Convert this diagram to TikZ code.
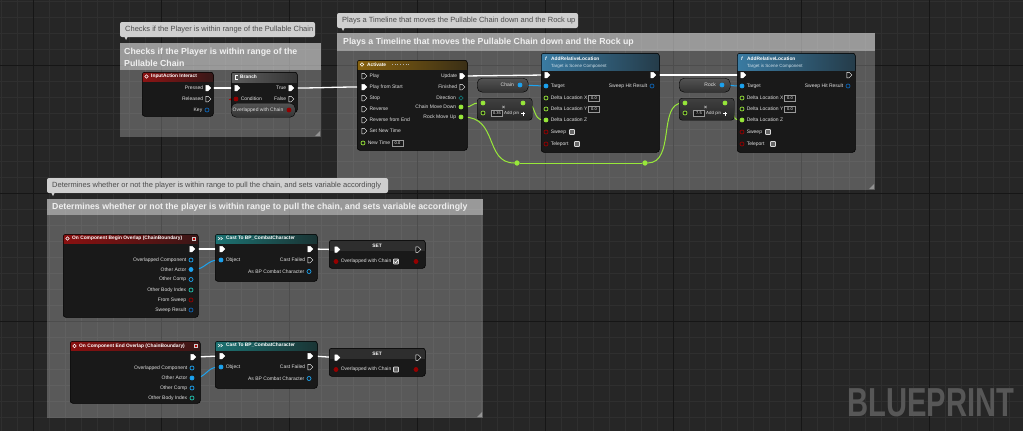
\documentclass[tikz,border=0pt]{standalone}
\usepackage{fontspec}
\setmainfont{Liberation Sans}
\usetikzlibrary{positioning, arrows.meta, calc, shapes.symbols, shapes.geometric}

% 色の定義
\definecolor{bgc}{HTML}{262626}
\definecolor{gridmin}{HTML}{2F2F2F}
\definecolor{gridmaj}{HTML}{161616}
\definecolor{bodyc}{HTML}{191919}
\definecolor{txtc}{HTML}{E0E0E0}
\definecolor{iared}{HTML}{8E1414}
\definecolor{evred}{HTML}{8A1010}
\definecolor{brgray}{HTML}{5E5E5E}
\definecolor{tlgold}{HTML}{87620F}
\definecolor{fnblue}{HTML}{3A7BA2}
\definecolor{castc}{HTML}{1C7272}
\definecolor{setred}{HTML}{6E1A1A}
\definecolor{fltc}{HTML}{98E83A}
\definecolor{objc}{HTML}{1CA3F0}
\definecolor{strc}{HTML}{0E63B4}
\definecolor{boolc}{HTML}{950000}
\definecolor{intc}{HTML}{22C2B0}
\definecolor{enumc}{HTML}{106E6E}
\definecolor{tipc}{HTML}{CFCFCF}
\definecolor{tiptxt}{HTML}{4C4C4C}
\definecolor{wmc}{HTML}{575757}

\pgfdeclarelayer{bg}
\pgfdeclarelayer{wire}
\pgfsetlayers{bg,wire,main}

\newcommand\pinfont{\fontsize{5}{6}\selectfont}
\newcommand\ttlfont{\fontsize{4.85}{6}\selectfont\bfseries}
\newcommand\subfont{\fontsize{4.5}{5}\selectfont}
\newcommand\tipfont{\fontsize{7.5}{9}\selectfont}
\newcommand\cmtfont{\fontsize{8.75}{11.5}\selectfont\bfseries}

\begin{document}
\begin{tikzpicture}[
    x=1pt, y=-1pt,          % ピクセル座標（y は下向き）
    font=\pinfont,
    % ノード本体（#1: ヘッダの塗り, #2: ヘッダの高さ）
    bpnode/.style 2 args={draw=black, line width=0.5pt, fill=bodyc,
        rounded corners=2.5pt, inner sep=0pt, anchor=north west,
        path picture={\shade[#1, sharp corners] (path picture bounding box.north west)
            rectangle ([yshift=-#2]path picture bounding box.north east);}},
    ttl/.style={font=\ttlfont, text=white, anchor=west, inner sep=0pt},
    sub/.style={font=\subfont, text=white!75!fnblue, anchor=west, inner sep=0pt},
    lbl/.style={font=\pinfont, text=txtc, inner sep=0pt, label distance=2.2pt},
    % ピン
    exec/.style={signal, signal to=east, draw=white, fill=white, line width=0.5pt,
        minimum width=5pt, minimum height=5.5pt, inner sep=0pt},
    execo/.style={exec, fill=bodyc},
    dpin/.style={circle, draw=#1, fill=#1, line width=0.7pt, minimum size=4pt, inner sep=0pt},
    dpino/.style={dpin=#1, fill=bodyc},
    pill/.style={draw=black, rounded corners=5pt, top color=black!35!gray, bottom color=black!80,
        inner sep=0pt, anchor=north west},
    compact/.style={draw=black, rounded corners=3pt, top color=black!50!gray, bottom color=black!85,
        inner sep=0pt, anchor=north west},
    valbox/.style={draw=gray!80, fill=bodyc, line width=0.4pt, font=\fontsize{4}{5}\selectfont,
        text=white, inner sep=0.6pt, minimum width=11pt, minimum height=6.5pt},
    chk/.style={draw=white!85!black, line width=0.7pt, fill=black!60, rounded corners=0.6pt,
        minimum size=5pt, inner sep=0pt},
    % コメント枠
    cmtbody/.style={fill=white, fill opacity=0.24},
    cmthead/.style={fill=white, fill opacity=0.39},
    cmtgrip/.style={fill=white, fill opacity=0.35},
    cmttext/.style={font=\cmtfont, text=white!94!black, anchor=west, align=left, inner sep=0pt},
    tipbox/.style={fill=tipc, rounded corners=2pt},
    tiptext/.style={font=\tipfont, text=tiptxt, anchor=west, inner sep=0pt},
    % ワイヤ
    ewire/.style={white, line width=1.3pt},
    fwire/.style={fltc, line width=1pt},
    owire/.style={objc, line width=1pt},
    bwire/.style={red!70!black, line width=1pt}
]

    \useasboundingbox (0,0) rectangle (1023,431);

    % --- 1. 背景とグリッド ---
    \begin{pgfonlayer}{bg}
    \fill[bgc] (0,0) rectangle (1023,431);
    \foreach \g in {1,17,...,1023} \draw[gridmin, line width=0.5pt] (\g,0) -- (\g,431);
    \foreach \g in {1,17,...,431} \draw[gridmin, line width=0.5pt] (0,\g) -- (1023,\g);
    \foreach \g in {33,161,...,1023} \draw[gridmaj, line width=0.8pt] (\g,0) -- (\g,431);
    \foreach \g in {65,193,321} \draw[gridmaj, line width=0.8pt] (0,\g) -- (1023,\g);

    % コメント枠（右下はリサイズ用の三角）
    \foreach \xa/\ya/\xb/\yb/\yh in {120/43/321/137/70, 337/33/875/190/51, 47/199/483/418/215} {
        \fill[cmtbody] (\xa,\ya) rectangle (\xb,\yb);
        \fill[cmthead] (\xa,\ya) rectangle (\xb,\yh);
        \fill[cmtgrip] ({\xb-6},{\yb-1}) -- ({\xb-1},{\yb-6}) -- ({\xb-1},{\yb-1}) -- cycle;
    }

    % 吹き出し
    \fill[tipbox] (120,22) rectangle (315,37);
    \fill[tipc] (124,36) -- (128,36) -- (126,40) -- cycle;
    \fill[tipbox] (337,13) rectangle (578,28);
    \fill[tipc] (341,27) -- (345,27) -- (343,31) -- cycle;
    \fill[tipbox] (47,178) rectangle (388,193);
    \fill[tipc] (51,192) -- (55,192) -- (53,196) -- cycle;
    \end{pgfonlayer}

    \node[tiptext] (tp1) at (125,29.5) {Checks if the Player is within range of the Pullable Chain};
    \node[tiptext] (tp2) at (342,20.5) {Plays a Timeline that moves the Pullable Chain down and the Rock up};
    \node[tiptext] (tp3) at (52,185.5) {Determines whether or not the player is within range to pull the chain, and sets variable accordingly};
    \node[cmttext] (hd1) at (124,57.5) {Checks if the Player is within range of the\\Pullable Chain};
    \node[cmttext] (hd2) at (343,42.5) {Plays a Timeline that moves the Pullable Chain down and the Rock up};
    \node[cmttext] (hd3) at (52,207.5) {Determines whether or not the player is within range to pull the chain, and sets variable accordingly};

    % --- 2. 入力と分岐 ---
    \node[bpnode={left color=iared, right color=iared!25!bodyc}{9pt}, minimum width=71pt, minimum height=44pt] (ia) at (142,72) {};
    \draw[white, line width=0.6pt] (146.5,76.5) circle (1.8);
    \node[ttl] (ia-t) at (151,76.5) {InputAction Interact};
    \node[exec, label={[lbl]left:Pressed}] (ia-pr) at (207,88) {};
    \node[execo, label={[lbl]left:Released}] (ia-rl) at (207,99) {};
    \node[dpino=strc, label={[lbl]left:Key}] (ia-key) at (207,110) {};

    \node[bpnode={left color=brgray, right color=brgray!40!bodyc}{10pt}, minimum width=66pt, minimum height=40pt] (br) at (231,72) {};
    \draw[white, line width=0.6pt] (237.5,75) -- (235.5,75) -- (235.5,79) -- (237.5,79);
    \node[ttl] (br-t) at (240,77) {Branch};
    \node[exec] (br-in) at (236,88) {};
    \node[exec, label={[lbl]left:True}] (br-tr) at (290,88) {};
    \node[dpin=boolc, label={[lbl]right:Condition}] (br-c) at (236,99) {};
    \node[execo, label={[lbl]left:False}] (br-f) at (290,99) {};
    \node[pill, minimum width=64pt, minimum height=14pt] (ov) at (231,103) {};
    \node[lbl] (ov-t) at (258,110) {Overlapped with Chain};
    \node[dpin=boolc] (ov-o) at (289,110) {};

    % --- 3. タイムライン ---
    \node[bpnode={left color=tlgold, right color=tlgold!30!bodyc}{9pt}, minimum width=110pt, minimum height=90pt] (tl) at (357,60) {};
    \draw[white, line width=0.5pt] (362,64.5) circle (1.8);
    \node[ttl] (tl-t) at (367,64.5) {Activate};
    \draw[white!70!black, dotted, line width=0.7pt] (392,64.5) -- (410,64.5);
    \foreach \i/\t in {0/Play, 2/Stop, 3/Reverse, 4/Reverse from End, 5/Set New Time}
        \node[execo, label={[lbl]right:\t}] (tl-l\i) at (363,{76+11*\i}) {};
    \node[exec, label={[lbl]right:Play from Start}] (tl-l1) at (363,87) {};
    \node[dpino=fltc, label={[lbl]right:New Time}] (tl-nt) at (363,143) {};
    \node[valbox] (tl-ntv) at (397.5,143) {0.0};
    \node[exec, label={[lbl]left:Update}] (tl-up) at (461,76) {};
    \node[execo, label={[lbl]left:Finished}] (tl-fin) at (461,87) {};
    \node[diamond, draw=enumc, fill=bodyc, line width=0.7pt, minimum size=4.5pt, inner sep=0pt,
        label={[lbl]left:Direction}] (tl-dir) at (461,98) {};
    \node[dpin=fltc, label={[lbl]left:Chain Move Down}] (tl-cmd) at (461,107) {};
    \node[dpin=fltc, label={[lbl]left:Rock Move Up}] (tl-rmu) at (461,117) {};

    % 変数の取得と乗算
    \foreach \k/\x/\nm/\v in {1/477/Chain/0.35, 2/679/Rock/7.5} {
        \node[pill, minimum width=51pt, minimum height=14pt] (g\k) at (\x,78) {};
        \node[lbl, anchor=east] (g\k-t) at ({\x+37},85) {\nm};
        \node[dpin=objc] (g\k-o) at ({\x+43},85) {};
        \node[compact, minimum width=55pt, minimum height=22pt] (m\k) at (\x,98) {};
        \node[dpin=fltc] (m\k-a) at ({\x+6},103) {};
        \node[dpino=fltc] (m\k-b) at ({\x+6},113) {};
        \node[valbox] (m\k-v) at ({\x+20},113) {\v};
        \node[lbl, text=white, font=\fontsize{6}{6}\selectfont] (m\k-x) at ({\x+26.5},107.5) {×};
        \node[lbl, anchor=west, font=\fontsize{4.4}{5}\selectfont] (m\k-ap) at ({\x+27},113.5) {Add pin};
        \draw[white, line width=0.7pt] ({\x+44},113.5) -- ({\x+48},113.5) ({\x+46},111.5) -- ({\x+46},115.5);
        \node[dpin=fltc] (m\k-o) at ({\x+46},103) {};
    }

    % AddRelativeLocation ×2
    \foreach \k/\x in {1/541, 2/737} {
        \node[bpnode={left color=fnblue, right color=fnblue!35!bodyc}{17pt}, minimum width=118pt, minimum height=99pt] (ar\k) at (\x,53) {};
        \node[font=\ttlfont\itshape, text=white, inner sep=0pt] (ar\k-f) at ({\x+5},58.5) {f};
        \node[ttl] (ar\k-t) at ({\x+10},58.5) {AddRelativeLocation};
        \node[sub] (ar\k-s) at ({\x+10},66) {Target is Scene Component};
        \node[exec] (ar\k-in) at ({\x+5},75) {};
        \node[dpin=objc, label={[lbl]right:Target}] (ar\k-tg) at ({\x+5},86) {};
        \node[dpino=strc, label={[lbl]left:Sweep Hit Result}] (ar\k-hit) at ({\x+111},86) {};
        \node[dpino=fltc, label={[lbl]right:Delta Location X}] (ar\k-dx) at ({\x+5},98) {};
        \node[valbox] (ar\k-vx) at ({\x+53},98) {0.0};
        \node[dpino=fltc, label={[lbl]right:Delta Location Y}] (ar\k-dy) at ({\x+5},109) {};
        \node[valbox] (ar\k-vy) at ({\x+53},109) {0.0};
        \node[dpin=fltc, label={[lbl]right:Delta Location Z}] (ar\k-dz) at ({\x+5},120) {};
        \node[dpino=boolc, label={[lbl]right:Sweep}] (ar\k-sw) at ({\x+5},132) {};
        \node[chk] (ar\k-swc) at ({\x+31},132) {};
        \node[dpino=boolc, label={[lbl]right:Teleport}] (ar\k-tp) at ({\x+5},144) {};
        \node[chk] (ar\k-tpc) at ({\x+36},144) {};
    }
    \node[exec] (ar1-out) at (652,75) {};
    \node[execo] (ar2-out) at (848,75) {};

    % リルートノード
    \node[dpin=fltc, minimum size=4.5pt] (rr1) at (517,163) {};
    \node[dpin=fltc, minimum size=4.5pt] (rr2) at (645,163) {};

    % --- 4. オーバーラップイベント ---
    \node[bpnode={left color=evred, right color=evred!30!bodyc}{9pt}, minimum width=135pt, minimum height=83pt] (bo) at (63,234) {};
    \draw[white, line width=0.6pt] (67.5,238.5) circle (1.8);
    \node[ttl] (bo-t) at (72,238.5) {On Component Begin Overlap (ChainBoundary)};
    \draw[white!80!black, fill=red!75!black, line width=0.4pt] (192.5,237) rectangle (195.5,240);
    \node[exec] (bo-ex) at (191,249) {};
    \node[dpino=objc, label={[lbl]left:Overlapped Component}] (bo-oc) at (191,260) {};
    \node[dpin=objc, label={[lbl]left:Other Actor}] (bo-oa) at (191,269.5) {};
    \node[dpino=objc, label={[lbl]left:Other Comp}] (bo-ocp) at (191,279.5) {};
    \node[dpino=intc, label={[lbl]left:Other Body Index}] (bo-obi) at (191,290) {};
    \node[dpino=boolc, label={[lbl]left:From Sweep}] (bo-fs) at (191,300) {};
    \node[dpino=strc, label={[lbl]left:Sweep Result}] (bo-sr) at (191,310) {};

    \node[bpnode={left color=evred, right color=evred!30!bodyc}{9pt}, minimum width=130pt, minimum height=62pt] (eo) at (70,341) {};
    \draw[white, line width=0.6pt] (74.5,346) circle (1.8);
    \node[ttl] (eo-t) at (79,346) {On Component End Overlap (ChainBoundary)};
    \draw[white!80!black, fill=red!75!black, line width=0.4pt] (194.5,344.5) rectangle (197.5,347.5);
    \node[exec] (eo-ex) at (192,357) {};
    \node[dpino=objc, label={[lbl]left:Overlapped Component}] (eo-oc) at (192,368) {};
    \node[dpin=objc, label={[lbl]left:Other Actor}] (eo-oa) at (192,378) {};
    \node[dpino=objc, label={[lbl]left:Other Comp}] (eo-ocp) at (192,388) {};
    \node[dpino=intc, label={[lbl]left:Other Body Index}] (eo-obi) at (192,398) {};

    % キャストと SET
    \foreach \k/\y in {1/234, 2/341} {
        \node[bpnode={left color=castc, right color=castc!30!bodyc}{9pt}, minimum width=102pt, minimum height=47pt] (c\k) at (215,\y) {};
        \draw[white, line width=0.5pt] (218,{\y+3}) -- (220,{\y+4.5}) -- (218,{\y+6})
            (220.5,{\y+3}) -- (222.5,{\y+4.5}) -- (220.5,{\y+6});
        \node[ttl] (c\k-t) at (226,{\y+4.5}) {Cast To BP\_CombatCharacter};
        \node[exec] (c\k-in) at (221,{\y+15}) {};
        \node[exec] (c\k-out) at (309,{\y+15}) {};
        \node[dpin=objc, label={[lbl]right:Object}] (c\k-ob) at (221,{\y+26}) {};
        \node[execo, label={[lbl]left:Cast Failed}] (c\k-cf) at (309,{\y+26}) {};
        \node[dpino=objc, label={[lbl]left:As BP Combat Character}] (c\k-as) at (309,{\y+37.5}) {};
    }
    \foreach \k/\y in {1/240, 2/348} {
        \node[bpnode={left color=bodyc!80!gray, middle color=setred, right color=bodyc!80!gray}{10pt}, minimum width=96pt, minimum height=28pt] (s\k) at (329,\y) {};
        \node[ttl, anchor=center] (s\k-t) at (377,{\y+6}) {SET};
        \node[exec] (s\k-in) at (336,{\y+9.5}) {};
        \node[execo] (s\k-out) at (417,{\y+9.5}) {};
        \node[dpin=boolc, label={[lbl]right:Overlapped with Chain}] (s\k-v) at (336,{\y+21.5}) {};
        \node[chk] (s\k-c) at (396,{\y+21.5}) {};
        \node[dpin=boolc] (s\k-o) at (416,{\y+21.5}) {};
    }
    \draw[white, line width=0.6pt] (394.4,261.6) -- (395.6,262.9) -- (397.7,260.1);

    % 透かし文字
    \node[font=\fontsize{40.5}{40}\selectfont\bfseries, text=wmc, inner sep=0pt, xscale=0.72] (wm) at (931,402.5) {BLUEPRINT};

    % --- 5. ワイヤ ---
    \begin{pgfonlayer}{wire}
    \draw[ewire] (ia-pr.east) -- (br-in.west);
    \draw[bwire] (ov-o.east) .. controls +(25,0) and +(-25,0) .. (br-c.west);
    \draw[ewire] (br-tr.east) .. controls +(30,0) and +(-30,0) .. (tl-l1.west);
    \draw[ewire] (tl-up.east) -- (ar1-in.west);
    \draw[ewire] (ar1-out.east) -- (ar2-in.west);
    \draw[owire] (g1-o.east) .. controls +(10,0) and +(-10,0) .. (ar1-tg.west);
    \draw[owire] (g2-o.east) .. controls +(10,0) and +(-10,0) .. (ar2-tg.west);
    \draw[fwire] (tl-cmd.east) .. controls +(12,0) and +(-12,0) .. (m1-a.west);
    \draw[fwire] (m1-o.east) .. controls +(12,0) and +(-12,0) .. (ar1-dz.west);
    \draw[fwire] (m2-o.east) .. controls +(12,0) and +(-12,0) .. (ar2-dz.west);
    \draw[fwire] (tl-rmu.east) .. controls +(35,0) and +(-30,0) .. (rr1.west);
    \draw[fwire] (rr1) -- (rr2);
    \draw[fwire] (rr2.east) .. controls +(28,0) and +(-25,0) .. (m2-a.west);

    \draw[ewire] (bo-ex.east) -- (c1-in.west);
    \draw[ewire] (c1-out.east) -- (s1-in.west);
    \draw[owire] (bo-oa.east) .. controls +(12,0) and +(-12,0) .. (c1-ob.west);
    \draw[ewire] (eo-ex.east) -- (c2-in.west);
    \draw[ewire] (c2-out.east) -- (s2-in.west);
    \draw[owire] (eo-oa.east) .. controls +(12,0) and +(-12,0) .. (c2-ob.west);
    \end{pgfonlayer}

\end{tikzpicture}
\end{document}
